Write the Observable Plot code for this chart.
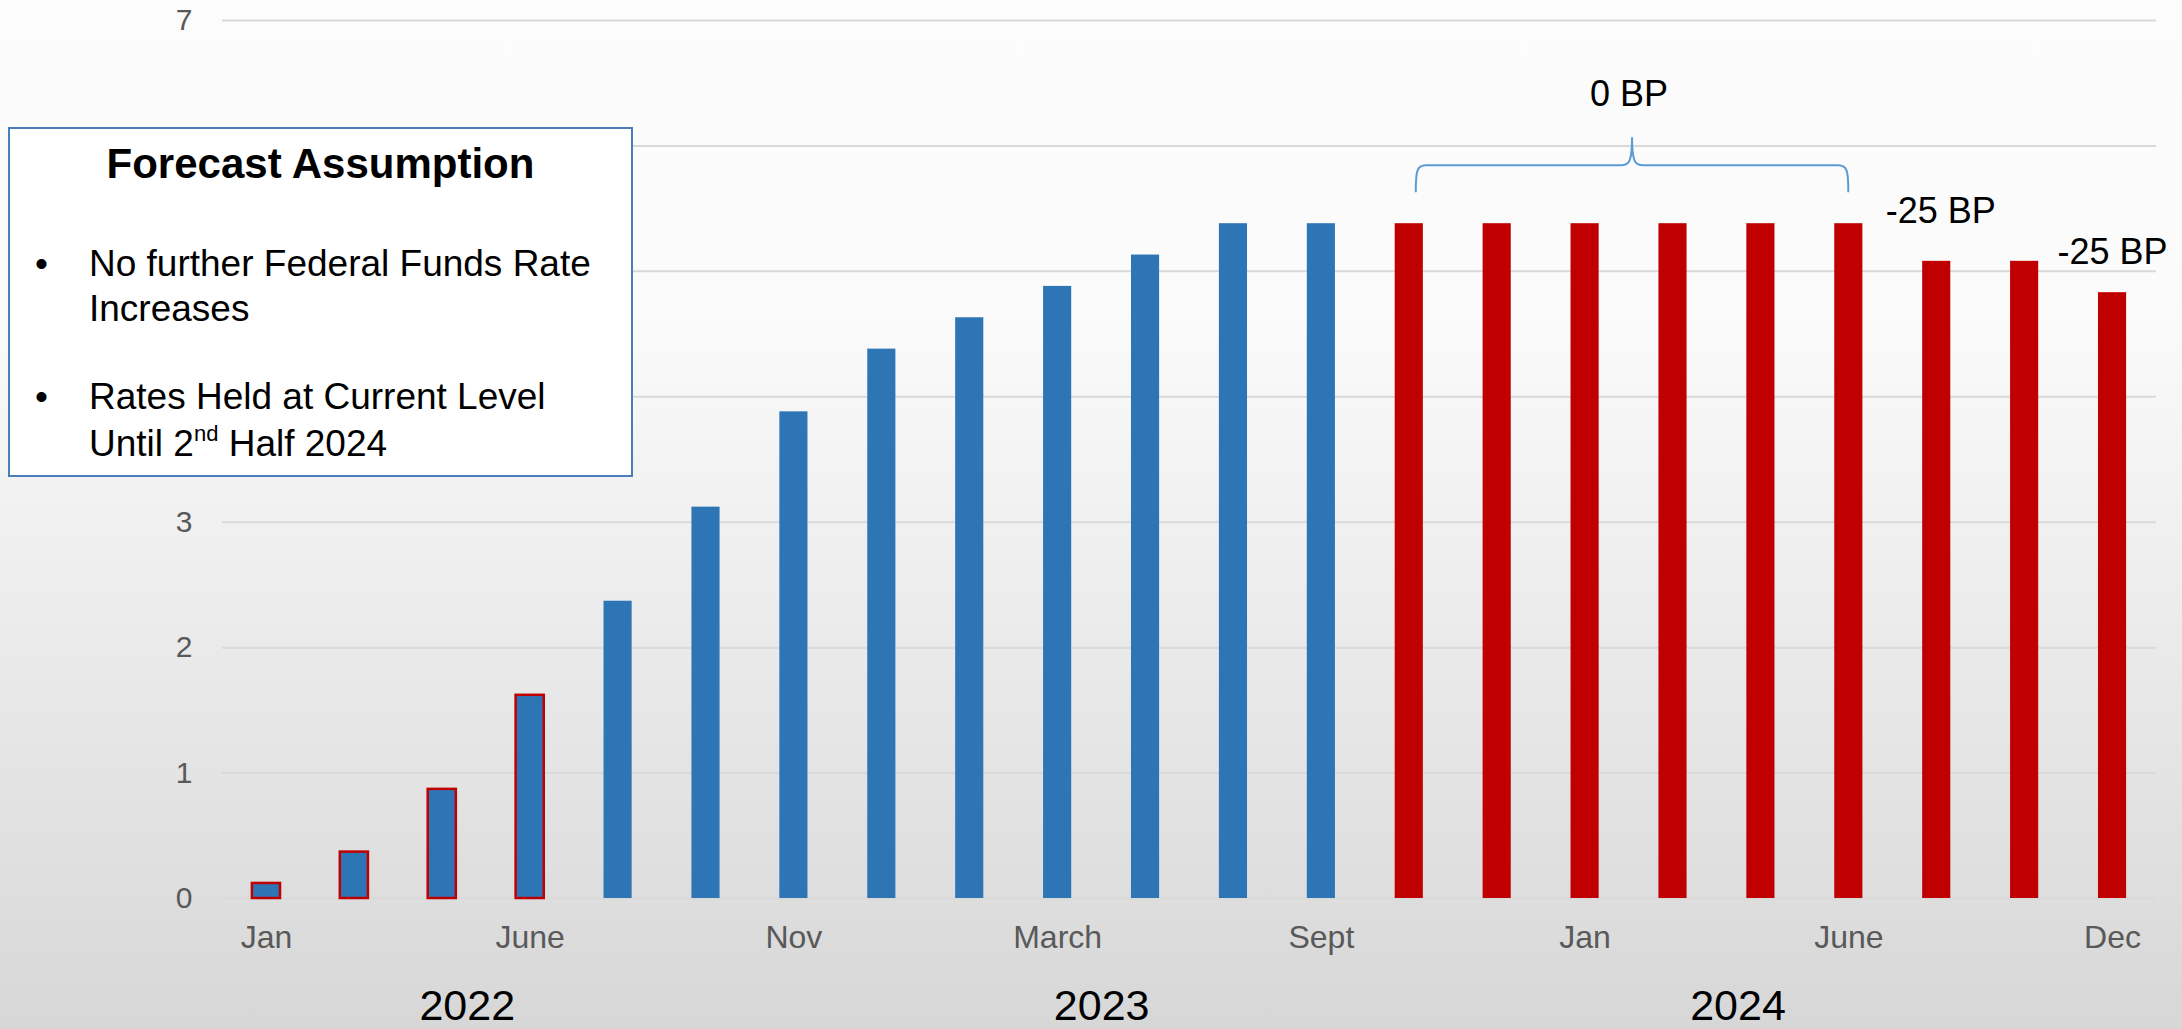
<!DOCTYPE html>
<html>
<head>
<meta charset="utf-8">
<script src="https://cdn.jsdelivr.net/npm/d3@7"></script>
<script src="https://cdn.jsdelivr.net/npm/@observablehq/plot@0.6"></script>
<style>
  html, body { margin: 0; padding: 0; }
  body {
    width: 2182px; height: 1029px; overflow: hidden; position: relative;
    font-family: "Liberation Sans", Arial, sans-serif;
    background: linear-gradient(to bottom, #fcfcfc 0%, #fbfbfb 30%, #d7d7d7 100%);
  }
  #chart { position: absolute; left: 0; top: 0; }
  #note {
    position: absolute; left: 8px; top: 127px; width: 621px; height: 346px;
    background: #ffffff; border: 2px solid #4a7ebb;
  }
  #note div { position: absolute; line-height: 1; white-space: nowrap; color: #000; }
  #note .title { left: 0; width: 100%; text-align: center; font-size: 42px; font-weight: bold; top: 14px; }
  #note .line { font-size: 37px; left: 79px; }
  #note .bullet { font-size: 37px; left: 25px; }
  #note sup { font-size: 22px; vertical-align: 0; position: relative; top: -15px; }
</style>
</head>
<body>
<div id="chart"></div>
<div id="note">
  <div class="title">Forecast Assumption</div>
  <div class="bullet" style="top:116px">•</div>
  <div class="line" style="top:116px">No further Federal Funds Rate</div>
  <div class="line" style="top:161px">Increases</div>
  <div class="bullet" style="top:249px">•</div>
  <div class="line" style="top:249px">Rates Held at Current Level</div>
  <div class="line" style="top:296px">Until 2<sup>nd</sup> Half 2024</div>
</div>
<script>
// FOMC meeting dates, Jan 2022 – Dec 2024
const meetings = [
  "Jan 2022", "Mar 2022", "May 2022", "Jun 2022", "Jul 2022", "Sep 2022", "Nov 2022", "Dec 2022",
  "Feb 2023", "Mar 2023", "May 2023", "Jul 2023", "Sep 2023", "Nov 2023", "Dec 2023",
  "Jan 2024", "Mar 2024", "May 2024", "Jun 2024", "Jul 2024", "Sep 2024", "Dec 2024"
];
// Federal funds rate (%)
const rates = [
  0.12, 0.37, 0.87, 1.62, 2.37, 3.12, 3.88, 4.38,
  4.63, 4.88, 5.13, 5.38, 5.38, 5.38, 5.38,
  5.38, 5.38, 5.38, 5.38, 5.08, 5.08, 4.83
];
// "outlined" = 2022 hikes, "actual" = realized, "forecast" = projected path
const status = [
  "outlined", "outlined", "outlined", "outlined",
  "actual", "actual", "actual", "actual", "actual", "actual", "actual", "actual", "actual",
  "forecast", "forecast", "forecast", "forecast", "forecast", "forecast", "forecast", "forecast", "forecast"
];
const monthLabels = [
  "Jan", "", "", "June", "", "", "Nov", "",
  "", "March", "", "", "Sept", "", "",
  "Jan", "", "", "June", "", "", "Dec"
];
const gridTicks = [0, 1, 2, 3, 4, 5, 6, 7];
const labelTicks = [0, 1, 2, 3, 7]; // 4–6 sit beneath the assumption box
const years = ["2022", "2023", "2024"];
const changeLabels = ["0 BP", "-25 BP", "-25 BP"];

const data = meetings.map((m, i) => ({meeting: m, rate: rates[i], status: status[i]}));

const BLUE = "#2e75b6";
const RED = "#c00000";
const FONT = "'Liberation Sans', Arial, sans-serif";

// Curly brace spanning the hold period (Nov 2023 – Jun 2024)
function holdBrace(index, scales) {
  const x = scales.x, y = scales.y;
  const bw = typeof x.bandwidth === "function" ? x.bandwidth() : 28;
  const L = x("Nov 2023") + bw / 2 + 7;
  const R = x("Jun 2024") + bw / 2;
  const M = (L + R) / 2;
  const top = y(5.38);
  const yEnd = top - 31, yBar = top - 58, yTip = top - 86;
  const d = `M${L},${yEnd} C${L},${yBar + 6} ${L + 1},${yBar} ${L + 10},${yBar}`
    + ` H${M - 10} C${M - 3},${yBar} ${M},${yBar - 4} ${M},${yTip}`
    + ` C${M},${yBar - 4} ${M + 3},${yBar} ${M + 10},${yBar}`
    + ` H${R - 10} C${R - 1},${yBar} ${R},${yBar + 6} ${R},${yEnd}`;
  const path = document.createElementNS("http://www.w3.org/2000/svg", "path");
  path.setAttribute("d", d);
  path.setAttribute("fill", "none");
  path.setAttribute("stroke", "#5b9bd5");
  path.setAttribute("stroke-width", "2");
  const g = document.createElementNS("http://www.w3.org/2000/svg", "g");
  g.appendChild(path);
  return g;
}

const chart = Plot.plot({
  width: 2182,
  height: 1029,
  marginLeft: 222,
  marginRight: 26,
  marginTop: 20,
  marginBottom: 131,
  style: {background: "transparent", fontFamily: FONT, overflow: "visible"},
  x: {domain: meetings, paddingInner: 0.68, paddingOuter: 0.34, round: false, label: null},
  y: {domain: [0, 7], label: null},
  marks: [
    Plot.gridY(gridTicks, {stroke: "#d9d9d9", strokeOpacity: 1, strokeWidth: 2}),
    Plot.axisY(labelTicks, {
      tickSize: 0, tickPadding: 30, fontSize: 30, fill: "#595959", label: null,
      tickFormat: (d) => String(d)
    }),
    Plot.axisX({
      tickSize: 0, tickPadding: 27, fontSize: 32, fill: "#595959", label: null,
      tickFormat: (d) => monthLabels[meetings.indexOf(d)]
    }),
    Plot.barY(data.filter(d => d.status === "outlined"), {
      x: "meeting", y: "rate", fill: BLUE, stroke: RED, strokeWidth: 2.5
    }),
    Plot.barY(data.filter(d => d.status === "actual"), {x: "meeting", y: "rate", fill: BLUE}),
    Plot.barY(data.filter(d => d.status === "forecast"), {x: "meeting", y: "rate", fill: RED}),
    holdBrace,
    // Rate-change annotations
    Plot.text([changeLabels[0]], {
      x: () => "Jan 2024", y: () => rates[meetings.indexOf("Jan 2024")], text: d => d,
      dx: 44, dy: -118, lineAnchor: "bottom", fontSize: 36, fill: "#000"
    }),
    Plot.text([changeLabels[1]], {
      x: () => "Jul 2024", y: () => rates[meetings.indexOf("Jul 2024")], text: d => d,
      dx: 4, dy: -38, lineAnchor: "bottom", fontSize: 36, fill: "#000"
    }),
    Plot.text([changeLabels[2]], {
      x: () => "Dec 2024", y: () => rates[meetings.indexOf("Dec 2024")], text: d => d,
      dy: -29, lineAnchor: "bottom", fontSize: 36, fill: "#000"
    }),
    // Year labels under the month axis
    Plot.text([years[0]], {x: () => "May 2022", frameAnchor: "bottom", text: d => d, dx: 25, dy: 121, lineAnchor: "bottom", fontSize: 43, fill: "#000"}),
    Plot.text([years[1]], {x: () => "Mar 2023", frameAnchor: "bottom", text: d => d, dx: 44, dy: 121, lineAnchor: "bottom", fontSize: 43, fill: "#000"}),
    Plot.text([years[2]], {x: () => "Mar 2024", frameAnchor: "bottom", text: d => d, dx: 65, dy: 121, lineAnchor: "bottom", fontSize: 43, fill: "#000"})
  ]
});

document.getElementById("chart").appendChild(chart);
</script>
</body>
</html>
